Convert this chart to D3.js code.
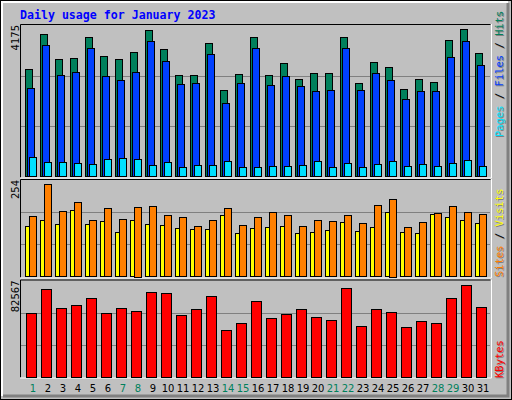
<!DOCTYPE html>
<html><head><meta charset="utf-8">
<script src="https://cdn.jsdelivr.net/npm/d3@7"></script>
<style>body{margin:0;background:#fff}svg{display:block}</style>
</head><body>
<script>
const title = "Daily usage for January 2023";
const days = d3.range(1, 32);
const weekends = [1,7,8,14,15,21,22,28,29];
const hits = [2955,3918,3230,3257,3835,3312,3230,3423,4028,3505,2789,2789,3670,2377,2817,3835,2789,3120,2679,2844,2844,3835,2569,3147,3010,2404,2679,2597,3753,4056,3395];
const files = [2432,3615,2789,2872,3533,2762,2652,2872,3725,3175,2542,2569,3368,2019,2569,3533,2514,2762,2487,2349,2377,3533,2377,2845,2652,2129,2349,2349,3285,3725,3065];
const pages = [532,395,395,367,340,477,505,477,312,395,257,312,312,422,257,257,284,284,312,422,257,367,257,340,422,284,340,284,367,450,284];
const sites = [132,148,138,175,138,146,116,148,138,135,127,124,124,161,114,127,130,132,114,116,122,143,119,130,169,116,114,164,156,148,140];
const visits = [159,243,172,196,148,180,151,183,185,161,156,132,148,180,135,156,169,161,132,148,146,161,140,188,204,130,143,167,185,169,164];
const kbytes = [54853,75640,59184,61782,67845,54853,59184,56585,73042,72175,53121,58317,69577,40129,46192,65246,50523,53987,58317,51389,48790,76506,43594,58317,55719,42728,47924,46192,67845,79104,60050];
const maxLabels = ["4175","254","82567"];
const maxVals = [4175,254,82567];

const W=512,H=400;
const svg=d3.select("body").append("svg").attr("width",W).attr("height",H);
svg.append("rect").attr("width",W).attr("height",H).attr("fill","#c0c0c0");
// bevel
svg.append("rect").attr("x",0.5).attr("y",0.5).attr("width",W-1).attr("height",H-1).attr("fill","none").attr("stroke","#000");
svg.append("path").attr("d","M2,396V2H508").attr("stroke","#fff").attr("stroke-width",2).attr("fill","none");
svg.append("path").attr("d","M508,3V396H3").attr("stroke","#808080").attr("stroke-width",3).attr("fill","none");

svg.append("text").attr("x",20).attr("y",19).text(title)
  .attr("font-family","DejaVu Sans Mono").attr("font-weight","bold").attr("font-size",11.6).attr("fill","#0000ff");

const x=d3.scaleLinear().domain([1,31]).range([25,475]);
const panels=[{t:25,b:176.5},{t:180,b:276.5},{t:280.5,b:376.5}];
panels.forEach((p,i)=>{
  const y=d3.scaleLinear().domain([0,maxVals[i]]).range([p.b,p.t]);
  p.y=y;
  svg.append("path").attr("d",`M20.5,${p.b+1}V${p.t-0.5}H490.5`).attr("stroke","#000").attr("fill","none");
  svg.append("path").attr("d",`M491.5,${p.t-1}V${p.b+1.5}H20`).attr("stroke","#fff").attr("fill","none");
  [1/3,2/3].forEach(f=>{
    const gy=Math.round(y(maxVals[i]*f))+0.5;
    svg.append("line").attr("x1",21).attr("x2",490).attr("y1",gy).attr("y2",gy).attr("stroke","#808080");
  });
  svg.append("text").attr("transform",`translate(19,${p.t}) rotate(-90)`).attr("text-anchor","end")
    .attr("font-family","DejaVu Sans").attr("font-size",10).text(maxLabels[i]);
});

function bars(data,pi,dx,w,color){
  const y=panels[pi].y;
  svg.append("g").selectAll("rect").data(data).join("rect")
    .attr("x",(d,i)=>x(days[i])+dx+0.5).attr("y",d=>Math.round(y(d))+0.5)
    .attr("width",w).attr("height",d=>Math.round(panels[pi].b-y(d)))
    .attr("fill",color).attr("stroke","#000");
}
bars(hits,0,0,7,"#00805c");
bars(files,0,2,7,"#0040ff");
bars(pages,0,4,7,"#00e0ff");
bars(sites,1,0,7,"#ffff00");
bars(visits,1,4,7,"#ff8000");
bars(kbytes,2,1,10,"#ff0000");

svg.append("g").selectAll("text").data(days).join("text")
  .attr("x",d=>x(d)+8).attr("y",392).attr("text-anchor","middle")
  .attr("font-family","DejaVu Sans").attr("font-size",10)
  .attr("fill",d=>weekends.includes(d)?"#00805c":"#000").text(d=>d);

function rlabel(yPos,parts){
  [["#808080",1],[null,0]].forEach(([sc,o])=>{
    const t=svg.append("text").attr("transform",`translate(${503+o},${yPos+o}) rotate(-90)`)
      .attr("font-family","DejaVu Sans Mono").attr("font-size",10.5);
    parts.forEach(([s,c])=>t.append("tspan").text(s).attr("fill",sc||c));
  });
}
rlabel(137,[["Pages","#00e0ff"],[" / ","#000"],["Files","#0040ff"],[" / ","#000"],["Hits","#00805c"]]);
rlabel(277,[["Sites","#ff8000"],[" / ","#000"],["Visits","#ffff00"]]);
rlabel(378,[["KBytes","#ff0000"]]);
</script>
</body></html>
